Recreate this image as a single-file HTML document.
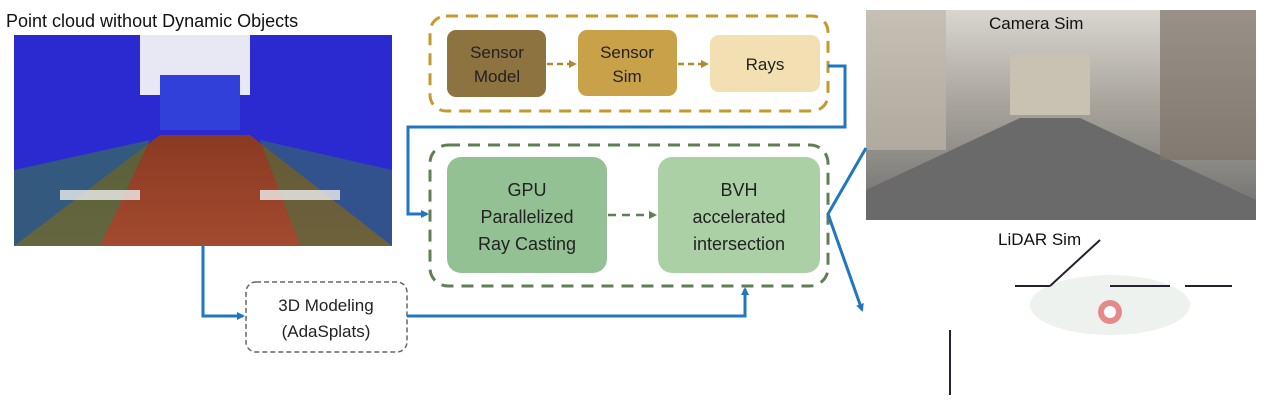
<!DOCTYPE html>
<html><head><style>
body{margin:0;background:#fff;}
svg{display:block;font-family:"Liberation Sans",sans-serif;}
</style></head><body>
<svg width="1266" height="415" viewBox="0 0 1266 415">
<defs>
<linearGradient id="road" x1="0" y1="0" x2="0" y2="1"><stop offset="0" stop-color="#8a3a22"/><stop offset="1" stop-color="#a34a30"/></linearGradient>
<linearGradient id="cam" x1="0" y1="0" x2="0" y2="1"><stop offset="0" stop-color="#d9d6d0"/><stop offset="0.45" stop-color="#a8a49c"/><stop offset="1" stop-color="#6e6e6e"/></linearGradient>
<marker id="ab" markerWidth="8" markerHeight="8" refX="6" refY="4" orient="auto" markerUnits="userSpaceOnUse"><path d="M0,0 L8,4 L0,8z" fill="#1f77c0"/></marker>
<marker id="ag" markerWidth="8" markerHeight="8" refX="6" refY="4" orient="auto" markerUnits="userSpaceOnUse"><path d="M0,0 L8,4 L0,8z" fill="#5f7f54"/></marker>
<marker id="ay" markerWidth="8" markerHeight="8" refX="6" refY="4" orient="auto" markerUnits="userSpaceOnUse"><path d="M0,0 L8,4 L0,8z" fill="#b08a30"/></marker>
</defs>
<text x="6" y="27" font-size="18" fill="#111">Point cloud without Dynamic Objects</text>
<!-- left image -->
<rect x="14" y="35" width="378" height="211" fill="#2a2ad0"/>
<rect x="140" y="35" width="110" height="60" fill="#e8e8f4"/>
<rect x="160" y="75" width="80" height="55" fill="#3040d8"/>
<polygon points="14,246 392,246 250,135 160,135" fill="url(#road)"/>
<polygon points="14,246 14,170 150,140 100,246" fill="#3a7a4a" opacity="0.6"/>
<polygon points="392,246 392,170 260,140 300,246" fill="#3a7a4a" opacity="0.5"/>
<rect x="60" y="190" width="80" height="10" fill="#eee" opacity="0.8"/>
<rect x="260" y="190" width="80" height="10" fill="#eee" opacity="0.8"/>
<!-- camera -->
<rect x="866" y="10" width="390" height="210" fill="url(#cam)"/>
<rect x="1010" y="55" width="80" height="60" fill="#c8c2b2"/>
<polygon points="866,220 1256,220 1256,200 1080,118 1020,118 866,190" fill="#6a6a6a"/>
<rect x="866" y="10" width="80" height="140" fill="#bdb6a8" opacity="0.7"/>
<rect x="1160" y="10" width="96" height="150" fill="#7d7468" opacity="0.7"/>
<text x="989" y="29" font-size="17" fill="#111">Camera Sim</text>
<!-- lidar -->
<text x="998" y="245" font-size="17" fill="#111">LiDAR Sim</text>
<ellipse cx="1110" cy="305" rx="80" ry="30" fill="#eef2ee"/>
<line x1="1015" y1="286" x2="1050" y2="286" stroke="#223" stroke-width="2"/>
<line x1="1050" y1="286" x2="1100" y2="240" stroke="#223" stroke-width="2"/>
<line x1="1110" y1="286" x2="1170" y2="286" stroke="#223" stroke-width="2"/>
<line x1="1185" y1="286" x2="1232" y2="286" stroke="#223" stroke-width="2"/>
<line x1="950" y1="330" x2="950" y2="395" stroke="#223" stroke-width="2"/>
<circle cx="1110" cy="312" r="12" fill="#e06060" opacity="0.7"/>
<circle cx="1110" cy="312" r="6" fill="#fff"/>
<!-- top box -->
<rect x="430" y="16" width="398" height="95" rx="16" fill="none" stroke="#c49a2e" stroke-width="3" stroke-dasharray="12,8"/>
<rect x="447" y="30" width="99" height="67" rx="9" fill="#8c7340"/>
<rect x="578" y="30" width="99" height="66" rx="9" fill="#c9a148"/>
<rect x="710" y="35" width="110" height="57" rx="9" fill="#f3e0b2"/>
<text font-size="17" fill="#222" text-anchor="middle"><tspan x="497" y="58">Sensor</tspan><tspan x="497" y="82">Model</tspan></text>
<text font-size="17" fill="#222" text-anchor="middle"><tspan x="627" y="58">Sensor</tspan><tspan x="627" y="82">Sim</tspan></text>
<text x="765" y="70" font-size="17" fill="#222" text-anchor="middle">Rays</text>
<line x1="547" y1="64" x2="575" y2="64" stroke="#b08a30" stroke-width="2.5" stroke-dasharray="6,4" marker-end="url(#ay)"/>
<line x1="678" y1="64" x2="707" y2="64" stroke="#b08a30" stroke-width="2.5" stroke-dasharray="6,4" marker-end="url(#ay)"/>
<!-- green box -->
<rect x="430" y="145" width="398" height="141" rx="18" fill="none" stroke="#5f7f54" stroke-width="3" stroke-dasharray="12,8"/>
<rect x="447" y="157" width="160" height="116" rx="14" fill="#94c194"/>
<rect x="658" y="157" width="162" height="116" rx="14" fill="#acd0a6"/>
<text font-size="18" fill="#222" text-anchor="middle"><tspan x="527" y="196">GPU</tspan><tspan x="527" y="223">Parallelized</tspan><tspan x="527" y="250">Ray Casting</tspan></text>
<text font-size="18" fill="#222" text-anchor="middle"><tspan x="739" y="196">BVH</tspan><tspan x="739" y="223">accelerated</tspan><tspan x="739" y="250">intersection</tspan></text>
<line x1="608" y1="215" x2="655" y2="215" stroke="#5f7f54" stroke-width="2.5" stroke-dasharray="8,6" marker-end="url(#ag)"/>
<!-- 3D modeling -->
<rect x="246" y="282" width="161" height="70" rx="10" fill="#fff" stroke="#666" stroke-width="1.5" stroke-dasharray="5,3"/>
<text font-size="17" fill="#222" text-anchor="middle"><tspan x="326" y="311">3D Modeling</tspan><tspan x="326" y="337">(AdaSplats)</tspan></text>
<!-- blue connectors -->
<g fill="none" stroke="#1f77c0" stroke-width="3">
<polyline points="828,66 845,66 845,127 408,127 408,214 427,214" marker-end="url(#ab)"/>
<polyline points="203,246 203,316 243,316" marker-end="url(#ab)"/>
<polyline points="407,316 745,316 745,289" marker-end="url(#ab)"/>
<line x1="828" y1="214" x2="866" y2="148"/>
<polyline points="828,214 862,310" marker-end="url(#ab)"/>
</g>
</svg>
</body></html>
